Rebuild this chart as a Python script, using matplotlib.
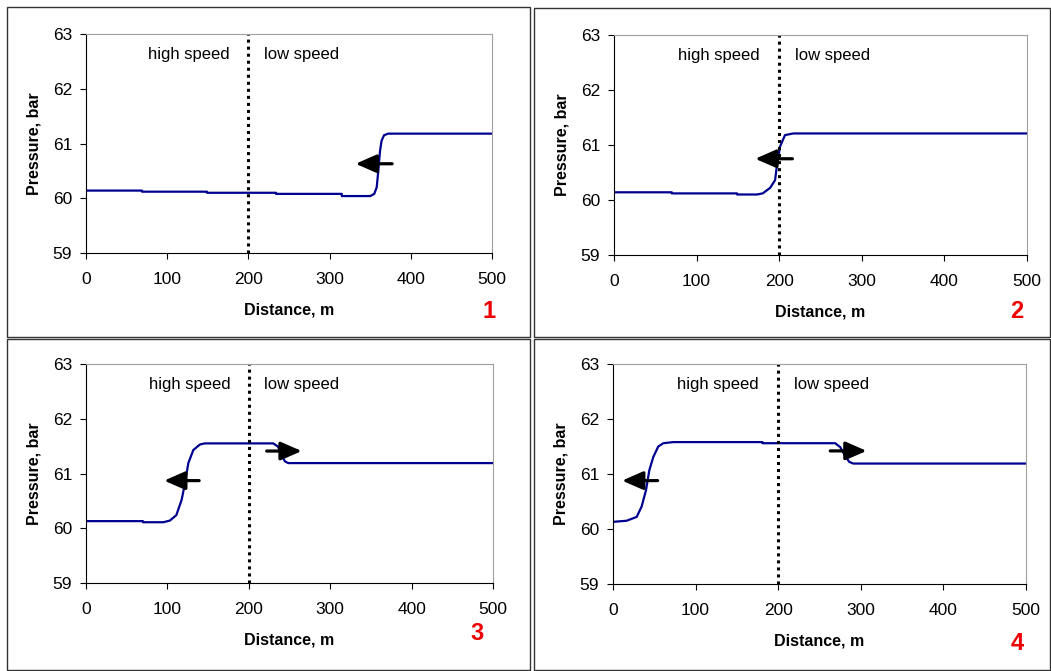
import matplotlib.pyplot as plt
from matplotlib.patches import Rectangle

plt.rcParams['font.family'] = ['Liberation Sans', 'DejaVu Sans']

W, H = 1051, 671

# pressure profiles, distance in m, pressure in bar
x1 = [0, 69, 69, 149, 149, 234, 234, 315, 315, 350, 355, 358, 360, 362, 364, 367, 372, 500]
p1 = [60.14, 60.14, 60.12, 60.12, 60.10, 60.10, 60.08, 60.08, 60.04, 60.04, 60.08, 60.2,
      60.5, 60.85, 61.05, 61.15, 61.18, 61.18]

x2 = [0, 70, 70, 149, 149, 173, 180, 189, 195, 197, 201, 207, 217, 500]
p2 = [60.14, 60.14, 60.12, 60.12, 60.10, 60.10, 60.12, 60.22, 60.36, 60.6, 60.97, 61.18,
      61.21, 61.21]

x3 = [0, 70, 70, 95, 103, 111, 117.5, 121.6, 125.7, 131.9, 140, 146, 230, 236, 240,
      244.5, 248.5, 500]
p3 = [60.13, 60.13, 60.11, 60.11, 60.14, 60.24, 60.52, 60.82, 61.19, 61.43, 61.53, 61.55,
      61.55, 61.49, 61.34, 61.22, 61.19, 61.19]

x4 = [0, 16.5, 28.7, 34.7, 40, 44, 48.8, 54.8, 61, 73, 181, 181, 269, 275, 281, 286, 291, 500]
p4 = [60.13, 60.15, 60.22, 60.41, 60.71, 61.07, 61.31, 61.5, 61.56, 61.58, 61.58, 61.56,
      61.56, 61.49, 61.33, 61.22, 61.19, 61.19]

# wave direction arrows: (x_tail, x_head, y)
arrows1 = [(377, 332, 60.63)]
arrows2 = [(216, 171, 60.75)]
arrows3 = [(139, 96, 60.87), (222, 265, 61.41)]
arrows4 = [(54, 11, 60.88), (263, 307, 61.42)]

panels = [
    (x1, p1, arrows1, '1', (86, 34, 492, 253), (7, 7, 530, 337), (489, 311)),
    (x2, p2, arrows2, '2', (614, 35, 1027, 255), (534, 8, 1050, 337), (1017, 312)),
    (x3, p3, arrows3, '3', (86, 364, 493, 583), (7, 339, 530, 670), (477, 634)),
    (x4, p4, arrows4, '4', (613, 364, 1026, 584), (534, 339, 1050, 670), (1017, 644)),
]

fig = plt.figure(figsize=(W / 100, H / 100), dpi=100)

for xs, ps, arrs, num, (l, t, r, b), (bl, bt, br, bb), (nx, ny) in panels:
    fig.patches.append(Rectangle((bl / W, 1 - bb / H), (br - bl) / W, (bb - bt) / H,
                                 transform=fig.transFigure, fill=False,
                                 edgecolor='#333333', lw=1.0))
    ax = fig.add_axes([l / W, 1 - b / H, (r - l) / W, (b - t) / H])
    ax.plot(xs, ps, color='#000090', lw=1.6)
    ax.axvline(200, color='black', ls=(0, (1, 1.3)), lw=2.2)
    for xt, xh, y in arrs:
        ax.annotate('', xy=(xh, y), xytext=(xt, y),
                    arrowprops=dict(arrowstyle='-|>,head_length=0.8,head_width=0.35',
                                    color='black', lw=2.3, mutation_scale=16,
                                    shrinkA=0, shrinkB=0))
    ax.text(127, 62.63, 'high speed', ha='center', va='center', fontsize=12)
    ax.text(219, 62.63, 'low speed', ha='left', va='center', fontsize=12)
    ax.set_xlim(0, 500)
    ax.set_ylim(59, 63)
    ax.set_xticks(range(0, 501, 100))
    ax.set_yticks(range(59, 64))
    ax.tick_params(direction='out', length=4, labelsize=12.5)
    ax.tick_params(axis='x', pad=10)
    ax.tick_params(axis='y', pad=6)
    for s in ['top', 'right']:
        ax.spines[s].set_color('#a0a0a0')
    ax.set_xlabel('Distance, m', fontsize=11.5, fontweight='bold', labelpad=11)
    ax.set_ylabel('Pressure, bar', fontsize=11.5, fontweight='bold', labelpad=8)
    fig.text(nx / W, 1 - ny / H, num, color='#ee0000', fontsize=17, fontweight='bold',
             ha='center', va='center')

fig.savefig('out.png', dpi=100)
